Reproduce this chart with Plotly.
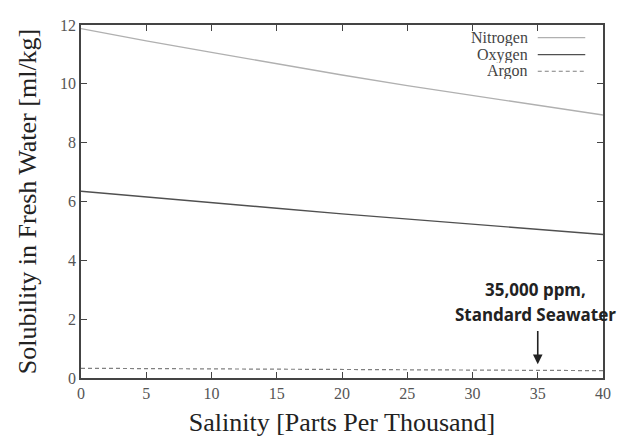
import plotly.graph_objects as go

salinity = [0, 5, 10, 15, 20, 25, 30, 35, 40]
nitrogen = [11.88, 11.46, 11.07, 10.68, 10.30, 9.94, 9.60, 9.27, 8.94]
oxygen = [6.35, 6.15, 5.96, 5.77, 5.58, 5.40, 5.22, 5.05, 4.88]
argon = [0.33, 0.32, 0.31, 0.30, 0.29, 0.28, 0.27, 0.26, 0.25]

x_ticks = [0, 5, 10, 15, 20, 25, 30, 35, 40]
y_ticks = [0, 2, 4, 6, 8, 10, 12]

series = [
    ("Nitrogen", nitrogen, "#b0b0b0", "solid", 1.3),
    ("Oxygen", oxygen, "#505050", "solid", 1.4),
    ("Argon", argon, "#808080", "4px,3px", 1.2),
]

fig = go.Figure()
for name, vals, color, dash, w in series:
    fig.add_trace(go.Scatter(x=salinity, y=vals, mode="lines", name=name,
                             line=dict(color=color, width=w, dash=dash),
                             showlegend=False))

serif = "Liberation Serif, DejaVu Serif, serif"

# custom legend (text right, sample line after)
leg_y = [0.964, 0.916, 0.869]
for (name, vals, color, dash, w), yy in zip(series, leg_y):
    fig.add_annotation(xref="paper", yref="paper", x=0.858, y=yy, text=name,
                       showarrow=False, xanchor="right", yanchor="middle",
                       height=16, borderpad=0,
                       font=dict(family=serif, size=16, color="#444"))
    fig.add_shape(type="line", xref="paper", yref="paper", x0=0.875, x1=0.966,
                  y0=yy, y1=yy, line=dict(color=color, width=w, dash=dash))

# standard seawater annotation
fig.add_annotation(x=35, y=0.47, ax=35, ay=1.65, axref="x", ayref="y",
                   text="", showarrow=True, arrowhead=2, arrowsize=1.2,
                   arrowwidth=1.6, arrowcolor="#222")
note_font = dict(family="Noto Sans, Open Sans, sans-serif", size=17, color="#222")
fig.add_annotation(x=34.8, y=3.02, text="<b>35,000 ppm,</b>",
                   showarrow=False, xanchor="center", yanchor="middle", font=note_font)
fig.add_annotation(x=34.8, y=2.15, text="<b>Standard Seawater</b>",
                   showarrow=False, xanchor="center", yanchor="middle", font=note_font)

axis_common = dict(showgrid=False, zeroline=False, showline=True, linecolor="#444",
                   linewidth=1.5, mirror="ticks", ticks="inside", ticklen=6,
                   tickcolor="#444", tickfont=dict(family=serif, size=16, color="#555"))

fig.update_layout(
    width=619, height=433,
    margin=dict(l=73, r=24, t=9, b=58),
    paper_bgcolor="white", plot_bgcolor="white",
    xaxis=dict(range=[0, 40], tickvals=x_ticks, ticktext=[str(v) for v in x_ticks],
               title=dict(text="Salinity [Parts Per Thousand]",
                          font=dict(family=serif, size=26, color="#222"), standoff=12),
               **axis_common),
    yaxis=dict(range=[0, 12], tickvals=y_ticks, ticktext=[str(v) for v in y_ticks],
               title=dict(text="Solubility in Fresh Water [ml/kg]",
                          font=dict(family=serif, size=26, color="#222"), standoff=16),
               **axis_common),
)

fig.write_html("out.html")
